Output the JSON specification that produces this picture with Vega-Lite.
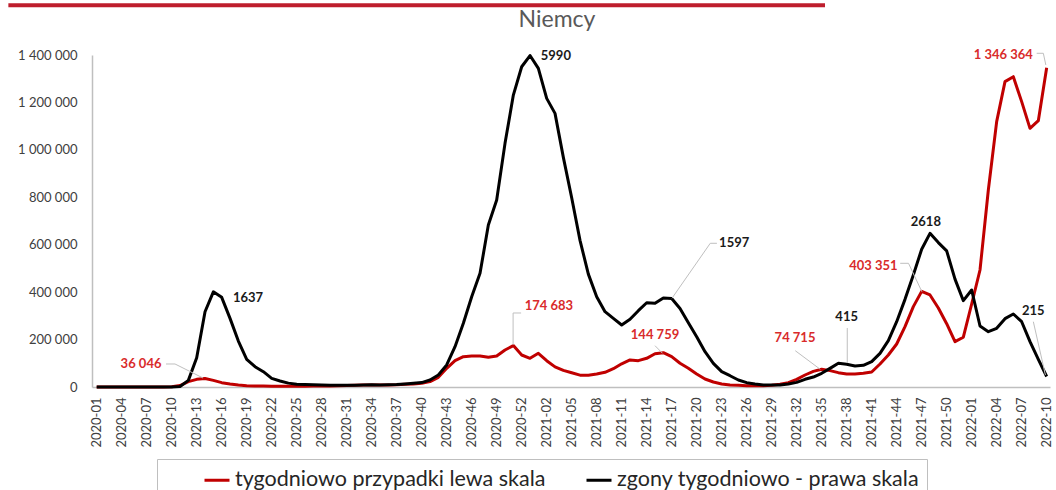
{
  "$schema": "https://vega.github.io/schema/vega-lite/v6.json",
  "width": 958,
  "height": 332,
  "autosize": {"type": "none"},
  "padding": {"left": 92, "top": 55, "right": 6, "bottom": 103},
  "config": {
    "font": "Lato",
    "view": {"stroke": null},
    "locale": {"number": {"decimal": ",", "thousands": " ", "grouping": [3], "currency": ["", ""]}}
  },
  "title": {"text": "Niemcy", "fontSize": 23, "fontWeight": "normal", "color": "#595959", "anchor": "middle", "frame": "group", "dx": -14, "offset": 0, "dy": 29},
  "datasets": {
    "main": [
      {"i":0,"cases":0,"deaths":0},{"i":1,"cases":0,"deaths":0},{"i":2,"cases":0,"deaths":0},{"i":3,"cases":0,"deaths":0},{"i":4,"cases":0,"deaths":0},{"i":5,"cases":0,"deaths":0},{"i":6,"cases":0,"deaths":0},{"i":7,"cases":0,"deaths":0},{"i":8,"cases":200,"deaths":0},{"i":9,"cases":1500,"deaths":0},
      {"i":10,"cases":6000,"deaths":10},{"i":11,"cases":22500,"deaths":120},{"i":12,"cases":32300,"deaths":530},{"i":13,"cases":36046,"deaths":1360},{"i":14,"cases":28000,"deaths":1720},{"i":15,"cases":18300,"deaths":1620},{"i":16,"cases":12700,"deaths":1240},{"i":17,"cases":8400,"deaths":830},{"i":18,"cases":5600,"deaths":500},{"i":19,"cases":4500,"deaths":367},
      {"i":20,"cases":4000,"deaths":277},{"i":21,"cases":3500,"deaths":157},{"i":22,"cases":3000,"deaths":108},{"i":23,"cases":3500,"deaths":70},{"i":24,"cases":3500,"deaths":50},{"i":25,"cases":3500,"deaths":45},{"i":26,"cases":4000,"deaths":40},{"i":27,"cases":4500,"deaths":35},{"i":28,"cases":4500,"deaths":30},{"i":29,"cases":5500,"deaths":30},
      {"i":30,"cases":6500,"deaths":30},{"i":31,"cases":7500,"deaths":30},{"i":32,"cases":8500,"deaths":35},{"i":33,"cases":8500,"deaths":40},{"i":34,"cases":8000,"deaths":35},{"i":35,"cases":8500,"deaths":40},{"i":36,"cases":9000,"deaths":45},{"i":37,"cases":11500,"deaths":55},{"i":38,"cases":13000,"deaths":66},{"i":39,"cases":16000,"deaths":80},
      {"i":40,"cases":23000,"deaths":126},{"i":41,"cases":40800,"deaths":217},{"i":42,"cases":78700,"deaths":398},{"i":43,"cases":111000,"deaths":729},{"i":44,"cases":127900,"deaths":1151},{"i":45,"cases":130700,"deaths":1632},{"i":46,"cases":131000,"deaths":2054},{"i":47,"cases":125100,"deaths":2927},{"i":48,"cases":130700,"deaths":3379},{"i":49,"cases":156000,"deaths":4403},
      {"i":50,"cases":174683,"deaths":5276},{"i":51,"cases":135000,"deaths":5788},{"i":52,"cases":121000,"deaths":5990},{"i":53,"cases":142000,"deaths":5758},{"i":54,"cases":111000,"deaths":5216},{"i":55,"cases":85000,"deaths":4945},{"i":56,"cases":70000,"deaths":4150},{"i":57,"cases":60000,"deaths":3420},{"i":58,"cases":50000,"deaths":2650},{"i":59,"cases":50000,"deaths":2040},
      {"i":60,"cases":55000,"deaths":1630},{"i":61,"cases":62000,"deaths":1361},{"i":62,"cases":77000,"deaths":1241},{"i":63,"cases":98000,"deaths":1120},{"i":64,"cases":114000,"deaths":1223},{"i":65,"cases":111000,"deaths":1379},{"i":66,"cases":121000,"deaths":1523},{"i":67,"cases":140000,"deaths":1512},{"i":68,"cases":144759,"deaths":1610},{"i":69,"cases":128000,"deaths":1600},
      {"i":70,"cases":100000,"deaths":1420},{"i":71,"cases":78700,"deaths":1162},{"i":72,"cases":54800,"deaths":909},{"i":73,"cases":33700,"deaths":638},{"i":74,"cases":21100,"deaths":428},{"i":75,"cases":12700,"deaths":277},{"i":76,"cases":8400,"deaths":204},{"i":77,"cases":7000,"deaths":126},{"i":78,"cases":5600,"deaths":78},{"i":79,"cases":5600,"deaths":54},
      {"i":80,"cases":5000,"deaths":36},{"i":81,"cases":7000,"deaths":36},{"i":82,"cases":11200,"deaths":36},{"i":83,"cases":18300,"deaths":54},{"i":84,"cases":32300,"deaths":84},{"i":85,"cases":50600,"deaths":139},{"i":86,"cases":66000,"deaths":180},{"i":87,"cases":74715,"deaths":247},{"i":88,"cases":69000,"deaths":337},{"i":89,"cases":60500,"deaths":428},
      {"i":90,"cases":54800,"deaths":410},{"i":91,"cases":54800,"deaths":379},{"i":92,"cases":57600,"deaths":392},{"i":93,"cases":63300,"deaths":458},{"i":94,"cases":97000,"deaths":608},{"i":95,"cases":135000,"deaths":837},{"i":96,"cases":181300,"deaths":1180},{"i":97,"cases":254400,"deaths":1584},{"i":98,"cases":338800,"deaths":2024},{"i":99,"cases":403351,"deaths":2490},
      {"i":100,"cases":388000,"deaths":2777},{"i":101,"cases":333000,"deaths":2610},{"i":102,"cases":267000,"deaths":2460},{"i":103,"cases":191200,"deaths":1950},{"i":104,"cases":210000,"deaths":1560},{"i":105,"cases":350000,"deaths":1753},{"i":106,"cases":493400,"deaths":1102},{"i":107,"cases":830700,"deaths":1000},{"i":108,"cases":1118900,"deaths":1060},{"i":109,"cases":1287600,"deaths":1235},
      {"i":110,"cases":1308600,"deaths":1319},{"i":111,"cases":1203300,"deaths":1180},{"i":112,"cases":1090800,"deaths":819},{"i":113,"cases":1123100,"deaths":500},{"i":114,"cases":1346364,"deaths":190}
    ],
    "notes": [
      {"label":"36 046","kind":"c","x":5.32,"y":95700},
      {"label":"1637","kind":"k","x":18.16,"y":374000},
      {"label":"174 683","kind":"c","x":54.27,"y":342900},
      {"label":"5990","kind":"k","x":55.1,"y":1395800},
      {"label":"144 759","kind":"c","x":67.0,"y":219300},
      {"label":"1597","kind":"k","x":76.5,"y":606000},
      {"label":"74 715","kind":"c","x":83.8,"y":205400},
      {"label":"415","kind":"k","x":90.0,"y":296500},
      {"label":"403 351","kind":"c","x":93.2,"y":510300},
      {"label":"2618","kind":"k","x":99.5,"y":697100},
      {"label":"215","kind":"k","x":112.4,"y":321800},
      {"label":"1 346 364","kind":"c","x":108.8,"y":1400000}
    ],
    "leaders": [
      {"x":8.32,"y":97000,"x2":9.4,"y2":97000},
      {"x":9.4,"y":97000,"x2":12.76,"y2":37950},
      {"x":50.93,"y":312100,"x2":49.97,"y2":312100},
      {"x":49.97,"y":312100,"x2":49.97,"y2":177100},
      {"x":67.0,"y":174200,"x2":67.9,"y2":142100},
      {"x":74.43,"y":606000,"x2":73.63,"y2":606000},
      {"x":73.63,"y":606000,"x2":69.03,"y2":374000},
      {"x":83.83,"y":153100,"x2":86.83,"y2":74600},
      {"x":90.07,"y":248800,"x2":90.07,"y2":101200},
      {"x":96.42,"y":521600,"x2":97.42,"y2":521600},
      {"x":97.42,"y":521600,"x2":99.03,"y2":401900},
      {"x":112.4,"y":275400,"x2":113.85,"y2":50600},
      {"x":112.8,"y":1407200,"x2":113.6,"y2":1407200},
      {"x":113.6,"y":1407200,"x2":113.9,"y2":1357900}
    ],
    "decor": [{"x":-10.6,"x2":87.4,"y":1610000}]
  },
  "layer": [
    {
      "data": {"name": "main"},
      "mark": {"type": "line", "strokeWidth": 3, "strokeJoin": "round"},
      "encoding": {
        "x": {"field": "i", "type": "quantitative", "title": null,
          "scale": {"domain": [-0.564, 114.4], "nice": false, "zero": false},
          "axis": {
            "values": [0,3,6,9,12,15,18,21,24,27,30,33,36,39,42,45,48,51,54,57,60,63,66,69,72,75,78,81,84,87,90,93,96,99,102,105,108,111,114],
            "tickCount": 200,
            "labelExpr": "datum.value <= 52 ? '2020-' + (datum.value < 9 ? '0' : '') + (datum.value + 1) : datum.value <= 104 ? '2021-' + (datum.value < 62 ? '0' : '') + (datum.value - 52) : '2022-' + (datum.value < 114 ? '0' : '') + (datum.value - 104)",
            "labelAngle": -90, "labelAlign": "right", "labelBaseline": "middle",
            "labelFontSize": 13, "labelColor": "#404040", "labelPadding": 10,
            "ticks": false, "grid": false, "domainColor": "#BFBFBF", "domainWidth": 1.5, "labelOverlap": false, "labelFlush": false, "labelBound": false
          }
        },
        "y": {"field": "cases", "type": "quantitative", "title": null,
          "scale": {"domain": [0, 1400000], "nice": false},
          "axis": {"values": [0,200000,400000,600000,800000,1000000,1200000,1400000], "format": ",d",
            "labelFontSize": 13, "labelColor": "#404040", "labelPadding": 15,
            "ticks": false, "grid": false, "domainColor": "#BFBFBF", "domainWidth": 1.5}
        },
        "color": {"datum": "tygodniowo przypadki lewa skala",
          "scale": {"domain": ["tygodniowo przypadki lewa skala", "zgony tygodniowo - prawa skala"], "range": ["#C00000", "#000000"]},
          "legend": {"orient": "none", "legendX": 65, "legendY": 404, "direction": "horizontal",
            "title": null,
            "labelFontSize": 21.5, "labelColor": "#262626", "labelLimit": 0,
            "symbolType": "stroke", "symbolSize": 625, "symbolStrokeWidth": 3, "symbolOffset": 39,
            "columnPadding": -14, "labelOffset": 4, "strokeColor": "#BFBFBF", "padding": 7}
        }
      }
    },
    {
      "data": {"name": "decor"},
      "mark": {"type": "rule", "color": "#BE1E2D", "strokeWidth": 4},
      "encoding": {
        "x": {"field": "x", "type": "quantitative"},
        "x2": {"field": "x2"},
        "y": {"field": "y", "type": "quantitative", "title": null, "axis": null, "scale": {"domain": [0, 1400000], "nice": false}}
      }
    },
    {
      "data": {"name": "main"},
      "mark": {"type": "line", "strokeWidth": 3, "strokeJoin": "round"},
      "encoding": {
        "x": {"field": "i", "type": "quantitative"},
        "y": {"field": "deaths", "type": "quantitative", "title": null, "axis": null, "scale": {"domain": [0, 6000], "nice": false}},
        "color": {"datum": "zgony tygodniowo - prawa skala"}
      }
    },
    {
      "data": {"name": "leaders"},
      "mark": {"type": "rule", "color": "#BFBFBF", "strokeWidth": 1},
      "encoding": {
        "x": {"field": "x", "type": "quantitative"},
        "x2": {"field": "x2"},
        "y": {"field": "y", "type": "quantitative", "title": null, "axis": null, "scale": {"domain": [0, 1400000], "nice": false}},
        "y2": {"field": "y2"}
      }
    },
    {
      "data": {"name": "notes"},
      "transform": [{"filter": "datum.kind == 'c'"}],
      "mark": {"type": "text", "color": "#D92B2B", "fontSize": 13, "fontWeight": "bold", "align": "center", "baseline": "middle"},
      "encoding": {
        "x": {"field": "x", "type": "quantitative"},
        "y": {"field": "y", "type": "quantitative", "title": null, "axis": null, "scale": {"domain": [0, 1400000], "nice": false}},
        "text": {"field": "label"}
      }
    },
    {
      "data": {"name": "notes"},
      "transform": [{"filter": "datum.kind == 'k'"}],
      "mark": {"type": "text", "color": "#1a1a1a", "fontSize": 13, "fontWeight": "bold", "align": "center", "baseline": "middle"},
      "encoding": {
        "x": {"field": "x", "type": "quantitative"},
        "y": {"field": "y", "type": "quantitative", "title": null, "axis": null, "scale": {"domain": [0, 1400000], "nice": false}},
        "text": {"field": "label"}
      }
    }
  ],
  "resolve": {"scale": {"y": "independent"}}
}
